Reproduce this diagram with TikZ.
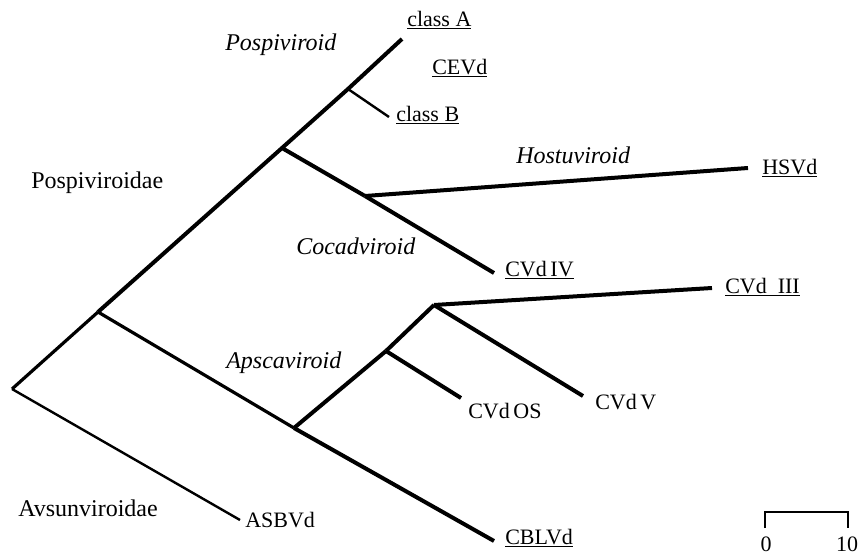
\documentclass[tikz,border=0pt]{standalone}
\usepackage{fontspec}
\setmainfont{Liberation Serif}
\usepackage{tikz}
\usetikzlibrary{
positioning,
calc
}

\begin{document}
\begin{tikzpicture}[
    x=0.75pt,
    y=-0.75pt,
    font=\fontsize{16.5}{18}\selectfont,
    branch/.style={line width=3pt},
    midbranch/.style={line width=2.4pt},
    thinbranch/.style={line width=1.8pt},
    taxon/.style={anchor=west, inner sep=0pt},
    family/.style={anchor=west, inner sep=0pt, font=\fontsize{18}{20}\selectfont},
    genus/.style={anchor=west, inner sep=0pt, font=\fontsize{18}{20}\selectfont\itshape}
]

% Frame
\useasboundingbox (0,0) rectangle (861,556);

% Branch points
\coordinate (root)    at (12,389);
\coordinate (nPosp)   at (98,312);
\coordinate (nCoca)   at (282,148);
\coordinate (nPospiv) at (348,89);
\coordinate (nHost)   at (365,196);
\coordinate (nApsc)   at (294,428);
\coordinate (nOS)     at (386,351);
\coordinate (nIII)    at (434,305);

% Tips
\coordinate (tClassA) at (402,39);
\coordinate (tClassB) at (389,117);
\coordinate (tHSVd)   at (748,168);
\coordinate (tCVdIV)  at (494,273);
\coordinate (tCVdIII) at (712,288);
\coordinate (tCVdV)   at (583,396);
\coordinate (tCVdOS)  at (461,398);
\coordinate (tCBLVd)  at (494,541);
\coordinate (tASBVd)  at (240,520);

% Pospiviroidae trunk
\draw[
    midbranch
]
(root) -- (nPosp);

\draw[
    branch
]
(nPosp) -- (nCoca) -- (nPospiv) -- (tClassA);

\draw[
    thinbranch
]
(nPospiv) -- (tClassB);

\foreach \a/\b in {
nCoca/nHost,
nHost/tCVdIV,
nHost/tHSVd,
nApsc/tCBLVd,
nApsc/nOS,
nOS/nIII,
nOS/tCVdOS,
nIII/tCVdIII,
nIII/tCVdV}{
    \draw[
        branch
    ]
    (\a) -- (\b);
}

\draw[
    midbranch
]
(nPosp) -- (nApsc);

% Avsunviroidae
\draw[
    thinbranch
]
(root) -- (tASBVd);

% Genus labels
\node[genus] (gPospiv) at (225,45)  {Pospiviroid};
\node[genus] (gHost)   at (516,155) {Hostuviroid};
\node[genus] (gCoca)   at (296,246) {Cocadviroid};
\node[genus] (gApsc)   at (226,363) {Apscaviroid};

% Family labels
\node[family] (fPosp) at (31,183) {Pospiviroidae};
\node[family] (fAvsu) at (18,508) {Avsunviroidae};

% Viroid labels
\foreach \name/\x/\y/\lab in {
lClassA/407/20/\underline{class A},
lCEVd/432/68/\underline{CEVd},
lClassB/396/115/\underline{class B},
lHSVd/762/168/\underline{HSVd},
lCVdIV/505/270/\underline{CVd\,IV},
lCVdIII/725/287/\underline{CVd\ \ III},
lCVdOS/468/411/CVd\,OS,
lCVdV/595/402/CVd\,V,
lASBVd/245/520/ASBVd,
lCBLVd/505/538/\underline{CBLVd}}{
    \node[taxon] (\name) at (\x,\y) {\lab};
}

% Scale bar
\coordinate (sb0)    at (765,528);
\coordinate (sb0up)  at (765,512);
\coordinate (sb10up) at (848,512);
\coordinate (sb10)   at (848,528);
\draw[
    thinbranch
]
(sb0) -- (sb0up) -- (sb10up) -- (sb10);

\node (lab0)  at (766,544) {0};
\node (lab10) at (847,544) {10};

\end{tikzpicture}
\end{document}
